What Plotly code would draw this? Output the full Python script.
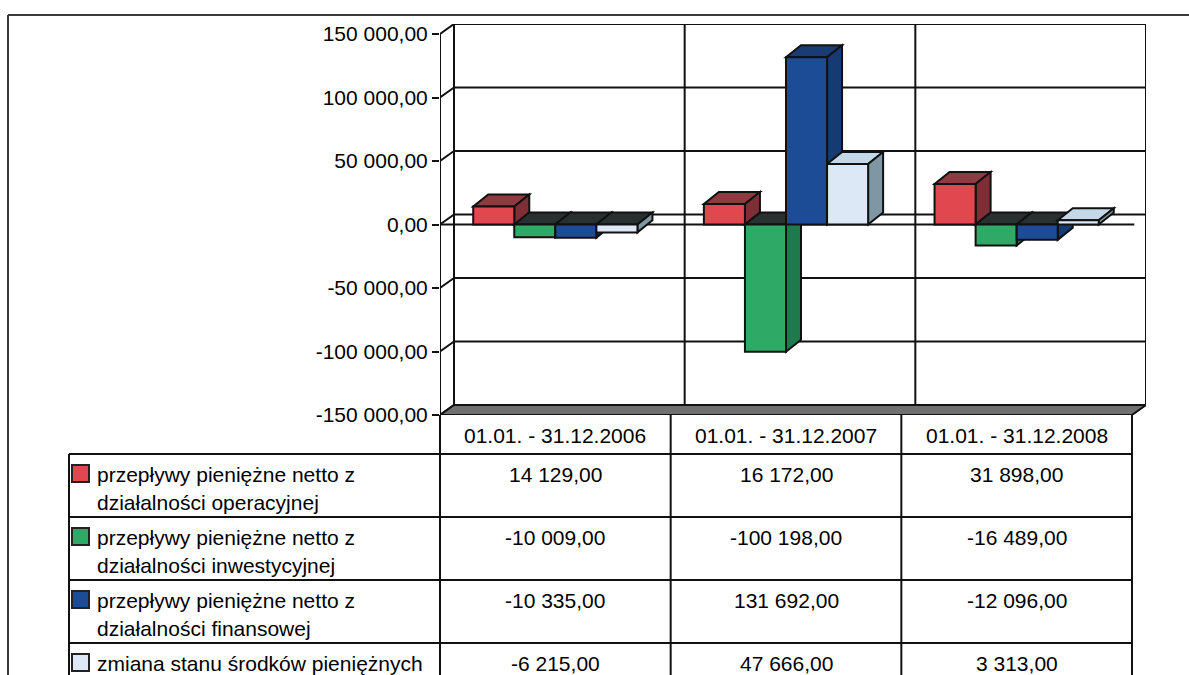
import plotly.graph_objects as go

# ---------------- data ----------------
periods = ["01.01. - 31.12.2006", "01.01. - 31.12.2007", "01.01. - 31.12.2008"]
series_names = [
    "przepływy pieniężne netto z<br>działalności operacyjnej",
    "przepływy pieniężne netto z<br>działalności inwestycyjnej",
    "przepływy pieniężne netto z<br>działalności finansowej",
    "zmiana stanu środków pieniężnych",
]
operacyjne = [14129.00, 16172.00, 31898.00]
inwestycyjne = [-10009.00, -100198.00, -16489.00]
finansowe = [-10335.00, 131692.00, -12096.00]
zmiana = [-6215.00, 47666.00, 3313.00]
y_ticks = [-150000, -100000, -50000, 0, 50000, 100000, 150000]

series_values = [operacyjne, inwestycyjne, finansowe, zmiana]

# ---------------- styles ----------------
front_colors = ["#E0474F", "#2FAA66", "#1C4C96", "#DCE8F5"]
top_colors = ["#8E3A40", "#1F7A4C", "#1A3C74", "#C3D8E8"]
side_colors = ["#7E2F35", "#1E7A4D", "#163A72", "#7F97A3"]
neg_top_color = "#283130"
FONT = "Liberation Sans, Arial, sans-serif"
LINE = "#111111"


def fmt(v):
    s = f"{abs(v):,.2f}".replace(",", " ").replace(".", ",")
    return ("-" if v < 0 else "") + s


# ---------------- geometry (pixels) ----------------
W, H = 1189, 675
FIG_H = 687
FL, FR = 440, 1132      # front plot left / right
FT, FB = 33, 414        # y pixel of max / min tick on front axis
WDX, WDY = 14, 10       # wall depth offset
BDX, BDY = 15, 12       # bar depth offset
ymin, ymax = min(y_ticks), max(y_ticks)
ncat = len(periods)

ux = ncat / (FR - FL)
uy = (ymax - ymin) / (FB - FT)
wdx, wdy = WDX * ux, WDY * uy
bdx, bdy = BDX * ux, BDY * uy
BW = 0.178
nser = len(series_values)
x0s = -0.5
x1s = ncat - 0.5


def px(xp):
    return xp / W


def py(yp):
    return 1 - yp / H


fig = go.Figure()
shapes = []
annotations = []

# back wall + left wall + floor (below everything)
for v in y_ticks:
    shapes.append(dict(type="line", xref="x", yref="y", layer="below",
                       x0=x0s + wdx, x1=x1s + wdx, y0=v + wdy, y1=v + wdy,
                       line=dict(color=LINE, width=2)))
    shapes.append(dict(type="line", xref="x", yref="y", layer="below",
                       x0=x0s, x1=x0s + wdx, y0=v, y1=v + wdy,
                       line=dict(color=LINE, width=2)))
for k in range(ncat + 1):
    xv = x0s + k + wdx
    shapes.append(dict(type="line", xref="x", yref="y", layer="below",
                       x0=xv, x1=xv, y0=ymin + wdy, y1=ymax + wdy,
                       line=dict(color=LINE, width=2)))
# floor
shapes.append(dict(type="path", xref="x", yref="y", layer="below",
                   path=f"M {x0s},{ymin} L {x1s},{ymin} L {x1s + wdx},{ymin + wdy} L {x0s + wdx},{ymin + wdy} Z",
                   fillcolor="#707070", line=dict(color=LINE, width=2)))
# front axis line
shapes.append(dict(type="line", xref="x", yref="y", layer="below",
                   x0=x0s, x1=x0s, y0=ymin, y1=ymax, line=dict(color=LINE, width=2)))
# front zero line
shapes.append(dict(type="line", xref="x", yref="y", layer="below",
                   x0=x0s, x1=x1s + 0.01, y0=0, y1=0, line=dict(color=LINE, width=2)))

# bars
for i, (name, vals) in enumerate(zip(series_names, series_values)):
    off = -nser / 2 * BW + i * BW
    fig.add_trace(go.Bar(
        x=list(range(ncat)), y=vals, width=BW, offset=off,
        marker=dict(color=front_colors[i], line=dict(color=LINE, width=2)),
        name=name.replace("<br>", " "), showlegend=False,
    ))

# 3D faces, drawn bar by bar left to right
for c in range(ncat):
    for i, vals in enumerate(series_values):
        v = vals[c]
        bx0 = c - nser / 2 * BW + i * BW
        bx1 = bx0 + BW
        top_y = max(v, 0)
        tcol = top_colors[i] if v >= 0 else neg_top_color
        shapes.append(dict(type="path", xref="x", yref="y", layer="between",
                           path=f"M {bx0},{top_y} L {bx1},{top_y} L {bx1 + bdx},{top_y + bdy} L {bx0 + bdx},{top_y + bdy} Z",
                           fillcolor=tcol, line=dict(color=LINE, width=2)))
        shapes.append(dict(type="path", xref="x", yref="y", layer="between",
                           path=f"M {bx1},0 L {bx1},{v} L {bx1 + bdx},{v + bdy} L {bx1 + bdx},{bdy} Z",
                           fillcolor=side_colors[i], line=dict(color=LINE, width=2)))

# ---------------- data table ----------------
col_px = [FL + k * (FR - FL) / ncat for k in range(ncat + 1)]
LEG_L = 69
HEAD_TOP, HEAD_BOT = FB, 453
ROW_H = 63
row_tops = [HEAD_BOT + r * ROW_H for r in range(nser)]

tl = dict(color=LINE, width=2)
for yp in [HEAD_BOT] + row_tops[1:]:
    shapes.append(dict(type="line", xref="paper", yref="paper",
                       x0=px(LEG_L), x1=px(FR), y0=py(yp), y1=py(yp), line=tl))
shapes.append(dict(type="line", xref="paper", yref="paper",
                   x0=px(LEG_L), x1=px(LEG_L), y0=py(HEAD_BOT), y1=py(H + 20), line=tl))
for xp in col_px:
    shapes.append(dict(type="line", xref="paper", yref="paper",
                       x0=px(xp), x1=px(xp), y0=py(HEAD_TOP), y1=py(H + 20), line=tl))

for k, p in enumerate(periods):
    annotations.append(dict(xref="paper", yref="paper", x=px((col_px[k] + col_px[k + 1]) / 2),
                            y=py((HEAD_TOP + HEAD_BOT) / 2 + 1), text=p, showarrow=False,
                            xanchor="center", yanchor="middle",
                            font=dict(family=FONT, size=21, color="black")))

for r, (name, vals) in enumerate(zip(series_names, series_values)):
    top = row_tops[r]
    shapes.append(dict(type="rect", xref="paper", yref="paper",
                       x0=px(72), x1=px(89), y0=py(top + 11), y1=py(top + 28),
                       fillcolor=front_colors[r], line=dict(color="#222222", width=2)))
    for li, line_txt in enumerate(name.split("<br>")):
        annotations.append(dict(xref="paper", yref="paper", x=px(95), y=py(top + 20 + 28 * li),
                                text=line_txt, showarrow=False, xanchor="left", yanchor="middle",
                                font=dict(family=FONT, size=21, color="black")))
    for k, v in enumerate(vals):
        annotations.append(dict(xref="paper", yref="paper", x=px((col_px[k] + col_px[k + 1]) / 2),
                                y=py(top + 20), text=fmt(v), showarrow=False,
                                xanchor="center", yanchor="middle",
                                font=dict(family=FONT, size=21, color="black")))

# outer frame of the scanned page
shapes.append(dict(type="line", xref="paper", yref="paper", x0=px(8), x1=1, y0=py(14), y1=py(14),
                   line=dict(color="#3a3a3a", width=2)))
shapes.append(dict(type="line", xref="paper", yref="paper", x0=px(8), x1=px(8), y0=py(14), y1=py(H + 20),
                   line=dict(color="#3a3a3a", width=2)))

fig.update_layout(
    width=W, height=FIG_H, margin=dict(l=0, r=0, t=0, b=0),
    paper_bgcolor="white", plot_bgcolor="rgba(0,0,0,0)",
    barmode="overlay", showlegend=False,
    shapes=shapes, annotations=annotations,
    xaxis=dict(domain=[px(FL), px(FR + WDX)], range=[x0s, x1s + wdx],
               visible=False, fixedrange=True),
    yaxis=dict(domain=[py(FB), py(FT - WDY)], range=[ymin, ymax + wdy],
               tickvals=y_ticks, ticktext=[fmt(v) for v in y_ticks],
               ticks="outside", ticklen=7, tickwidth=2, tickcolor=LINE,
               showgrid=False, zeroline=False, showline=False,
               tickfont=dict(family=FONT, size=21, color="black")),
)

fig.write_html("out.html")
